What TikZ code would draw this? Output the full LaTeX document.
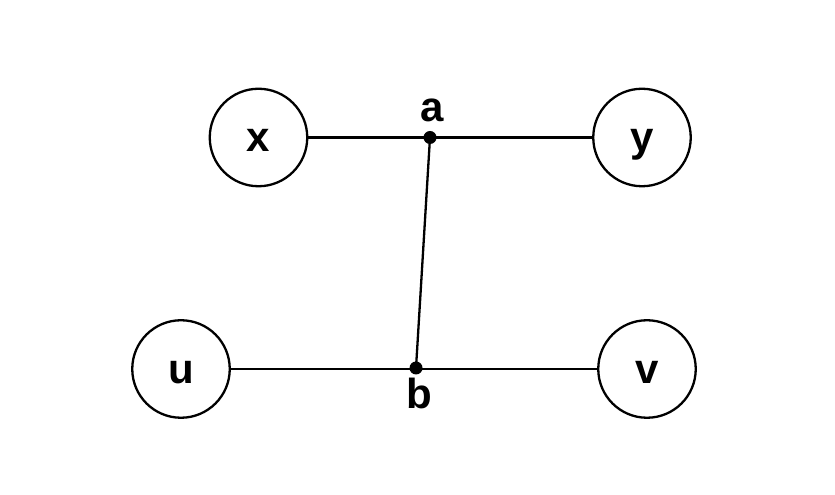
\documentclass[tikz,border=0pt]{standalone}
\usepackage{fontspec}
\setmainfont{Liberation Sans}
\begin{document}
\begin{tikzpicture}[x=1pt,y=1pt,
  vtx/.style={draw,circle,line width=2.3pt,minimum size=97.5pt,inner sep=0pt,
    text height=29pt,text depth=0pt,font=\fontsize{42}{42}\selectfont\bfseries},
  lbl/.style={font=\fontsize{42}{42}\selectfont\bfseries,inner sep=0pt,anchor=base},
  edge/.style={line width=2.3pt}]
\useasboundingbox (0,0) rectangle (835,495);
\node[vtx] (x) at (258.5,357.5) {x};
\node[vtx] (y) at (642,357.5) {y};
\node[vtx] (u) at (181,126) {u};
\node[vtx] (v) at (647,126) {v};
\coordinate (a) at (430,357.5);
\coordinate (b) at (416,127);
\draw[edge] (x) -- (y);
\draw[edge] (u) -- (v);
\draw[edge] (a) -- (b);
\fill (a) circle (6.5);
\fill (b) circle (6.5);
\node[lbl] (la) at (432.5,373) {a};
\node[lbl] (lb) at (419,86) {b};
\end{tikzpicture}
\end{document}
